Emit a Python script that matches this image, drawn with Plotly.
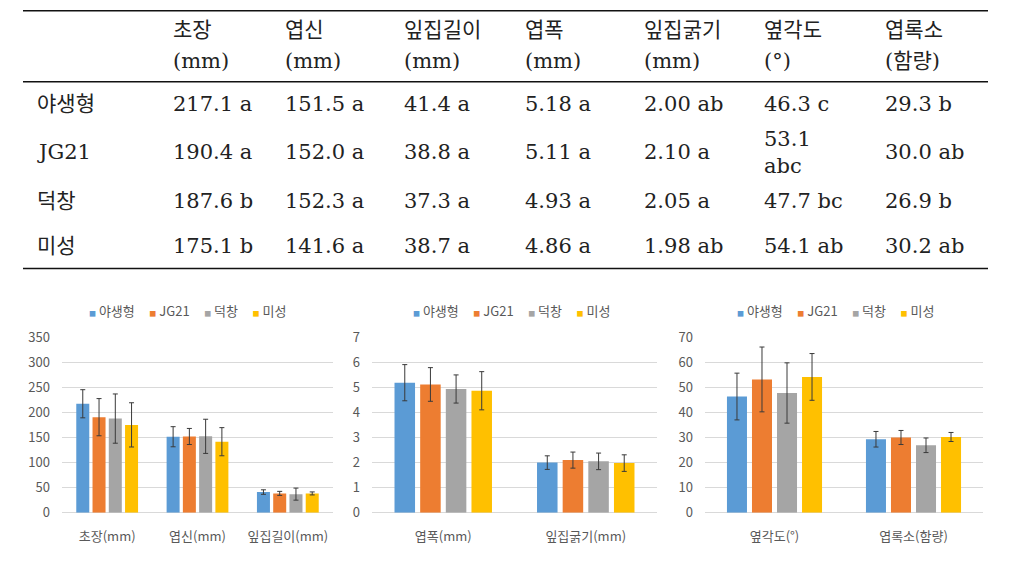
import plotly.graph_objects as go

# ---------------- data ----------------
series = ["야생형", "JG21", "덕창", "미성"]

# table
table_columns = ["초장", "엽신", "잎집길이", "엽폭", "잎집굵기", "옆각도", "엽록소"]
table_units = ["(mm)", "(mm)", "(mm)", "(mm)", "(mm)", "(°)", "(함량)"]
decimals = [1, 1, 1, 2, 2, 1, 1]

# mean values per series, in table column order
means = {
    "야생형": [217.1, 151.5, 41.4, 5.18, 2.00, 46.3, 29.3],
    "JG21":   [190.4, 152.0, 38.8, 5.11, 2.10, 53.1, 30.0],
    "덕창":   [187.6, 152.3, 37.3, 4.93, 2.05, 47.7, 26.9],
    "미성":   [175.1, 141.6, 38.7, 4.86, 1.98, 54.1, 30.2],
}
letters = {
    "야생형": ["a", "a", "a", "a", "ab", "c", "b"],
    "JG21":   ["a", "a", "a", "a", "a", "abc", "ab"],
    "덕창":   ["b", "a", "a", "a", "a", "bc", "b"],
    "미성":   ["b", "a", "a", "a", "ab", "ab", "ab"],
}
# error bar sizes
errors = {
    "야생형": [28, 20, 4.5, 0.72, 0.27, 9.3, 3.1],
    "JG21":   [37, 16, 4.0, 0.67, 0.32, 12.9, 2.8],
    "덕창":   [49, 34, 12.0, 0.56, 0.33, 12.0, 2.9],
    "미성":   [44, 28, 3.0, 0.76, 0.33, 9.3, 1.8],
}

# chart groups: indices of table columns, category labels, y max, dtick
chart_cols = [[0, 1, 2], [3, 4], [5, 6]]
chart_cats = [["초장(mm)", "엽신(mm)", "잎집길이(mm)"],
              ["엽폭(mm)", "잎집굵기(mm)"],
              ["옆각도(°)", "엽록소(함량)"]]
chart_ymax = [350, 7, 70]
chart_dtick = [50, 1, 10]

# ---------------- style ----------------
W, H = 1011, 585
colors = ["#5B9BD5", "#ED7D31", "#A5A5A5", "#FFC000"]
chart_xpx = [(62, 333), (372, 657), (705, 983)]


def vy(target):
    """vertical pixel position in the figure that lands at `target` in the photo
    (the page photo is padded by ~10px top/bottom and rescaled to 585px)."""
    return max(0.8, (target - 9.7) / 0.967)


plot_top_px, plot_bot_px = vy(336.5), vy(512.3)
legend_cx = [187, 511, 835]
legend_y = vy(310)
axis_font = dict(family="Noto Sans CJK KR", size=13, color="#595959")
table_font = dict(family="DejaVu Serif, Noto Sans CJK KR", size=21, color="#222222")

fig = go.Figure()

for ci, cols in enumerate(chart_cols):
    xa = "x" if ci == 0 else f"x{ci+1}"
    ya = "y" if ci == 0 else f"y{ci+1}"
    for si, s in enumerate(series):
        fig.add_trace(go.Bar(
            x=chart_cats[ci],
            y=[means[s][c] for c in cols],
            name=s,
            marker=dict(color=colors[si], line=dict(width=0)),
            error_y=dict(type="data", array=[errors[s][c] for c in cols],
                         color="#3a3a3a", thickness=1, width=2.5),
            xaxis=xa, yaxis=ya, showlegend=False,
        ))

layout_axes = {}
for ci in range(3):
    x0, x1 = chart_xpx[ci]
    xkey = "xaxis" if ci == 0 else f"xaxis{ci+1}"
    ykey = "yaxis" if ci == 0 else f"yaxis{ci+1}"
    xa = "x" if ci == 0 else f"x{ci+1}"
    ya = "y" if ci == 0 else f"y{ci+1}"
    layout_axes[xkey] = dict(
        domain=[x0 / W, x1 / W], anchor=ya, showgrid=False, showline=False,
        zeroline=False, tickfont=axis_font, ticklabelstandoff=14, fixedrange=True,
    )
    layout_axes[ykey] = dict(
        domain=[(H - plot_bot_px) / H, (H - plot_top_px) / H], anchor=xa,
        range=[0, chart_ymax[ci]], dtick=chart_dtick[ci], showgrid=True,
        gridcolor="#D9D9D9", gridwidth=1, zeroline=True, zerolinecolor="#D9D9D9",
        zerolinewidth=1, showline=False, tickfont=axis_font,
        ticklabelstandoff=11, fixedrange=True,
    )

annotations = []
# legends (one per chart)
for ci in range(3):
    parts = []
    for s, c in zip(series, colors):
        parts.append(f"<span style='color:{c};font-size:7px'>■</span> {s}")
    text = "\u00a0\u00a0\u00a0\u00a0\u00a0".join(parts)
    annotations.append(dict(
        text=text, xref="paper", yref="paper", x=legend_cx[ci] / W,
        y=1 - legend_y / H, xanchor="center", yanchor="middle", showarrow=False,
        font=axis_font,
    ))

# table
col_x = [171, 283, 402, 523, 642, 762, 883]
row_label_x = 35
header_y = [vy(30), vy(61)]
row_y = [vy(104), vy(152), vy(201), vy(246)]
for j, (cname, unit) in enumerate(zip(table_columns, table_units)):
    for k, t in enumerate([cname, unit]):
        annotations.append(dict(
            text=t, xref="paper", yref="paper", x=col_x[j] / W, y=1 - header_y[k] / H,
            xanchor="left", yanchor="middle", showarrow=False, font=table_font,
        ))
for i, s in enumerate(series):
    annotations.append(dict(
        text=s, xref="paper", yref="paper", x=row_label_x / W, y=1 - row_y[i] / H,
        xanchor="left", yanchor="middle", showarrow=False, font=table_font,
    ))
    for j in range(len(table_columns)):
        val = f"{means[s][j]:.{decimals[j]}f}"
        let = letters[s][j]
        sep = "<br>" if len(let) >= 3 else " "
        annotations.append(dict(
            text=f"{val}{sep}{let}", xref="paper", yref="paper", x=col_x[j] / W,
            y=1 - row_y[i] / H, xanchor="left", yanchor="middle", align="left",
            showarrow=False, font=table_font,
        ))

shapes = []
for yy in [vy(7.3), vy(81.5), vy(268)]:
    shapes.append(dict(type="line", xref="paper", yref="paper", x0=23 / W, x1=988 / W,
                       y0=1 - yy / H, y1=1 - yy / H, line=dict(color="#111111", width=1.5)))

fig.update_layout(
    width=W, height=H, margin=dict(l=0, r=0, t=0, b=0),
    paper_bgcolor="white", plot_bgcolor="white",
    barmode="group", bargap=0.28, bargroupgap=0.2,
    annotations=annotations, shapes=shapes, showlegend=False,
    **layout_axes,
)

post = "document.body.style.margin='0';document.body.style.overflow='hidden';"
fig.write_html("out.html", config={"displayModeBar": False}, post_script=post)
